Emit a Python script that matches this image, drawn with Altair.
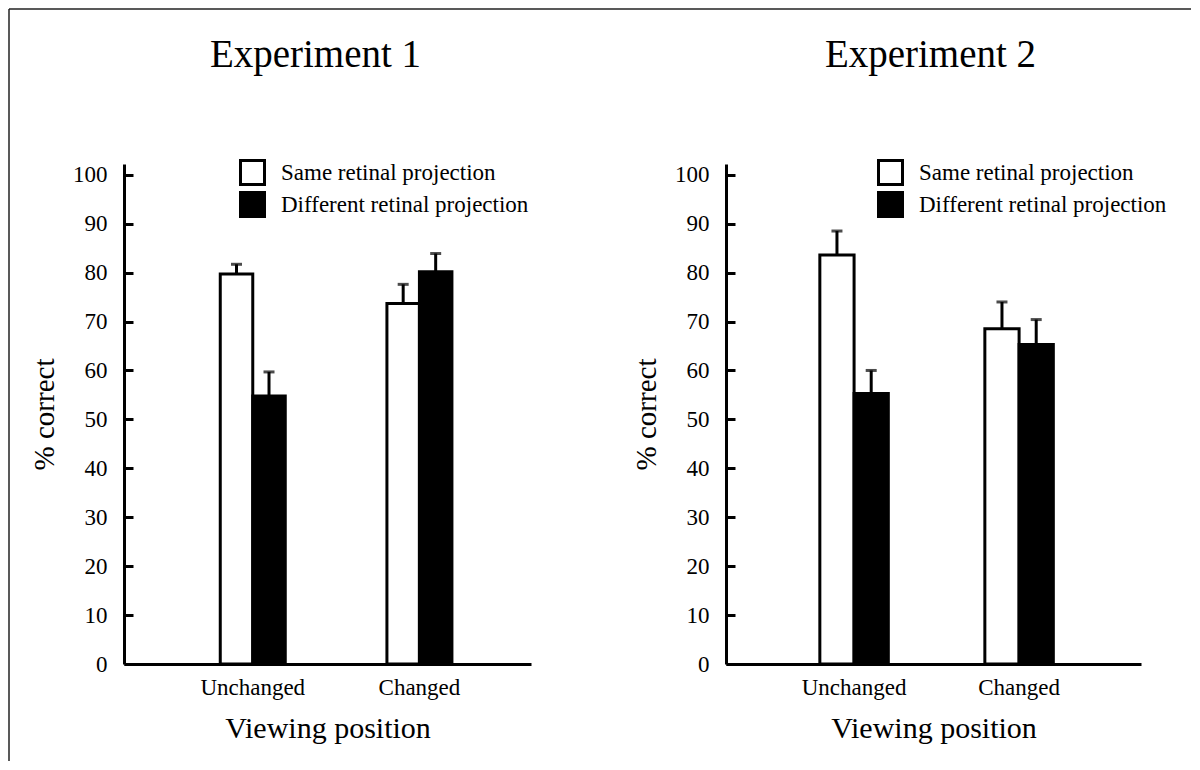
import altair as alt
import pandas as pd

positions = ["Unchanged", "Changed"]
conditions = ["Same retinal projection", "Different retinal projection"]

exp1_same = [79.7, 73.7]
exp1_same_se = [2.0, 3.9]
exp1_diff = [54.8, 80.2]
exp1_diff_se = [4.9, 3.7]

exp2_same = [83.6, 68.5]
exp2_same_se = [4.9, 5.5]
exp2_diff = [55.3, 65.3]
exp2_diff_se = [4.7, 5.1]

y_ticks = [0, 10, 20, 30, 40, 50, 60, 70, 80, 90, 100]

FONT = "Liberation Serif"


def make_df(same, same_se, diff, diff_se):
    rows = []
    for i, p in enumerate(positions):
        rows.append({"pos": p, "cond": conditions[0], "val": same[i], "se": same_se[i]})
        rows.append({"pos": p, "cond": conditions[1], "val": diff[i], "se": diff_se[i]})
    df = pd.DataFrame(rows)
    df["upper"] = df["val"] + df["se"]
    return df


def panel(df, title, width, pin, pout, align, leg_x, title_dx, title_offset, frame=False):
    x_enc = alt.X(
        "pos:N",
        sort=positions,
        scale=alt.Scale(paddingInner=pin, paddingOuter=pout, align=align),
        axis=alt.Axis(
            title="Viewing position",
            titleFont=FONT, titleFontSize=30, titleFontWeight="normal", titleColor="black",
            titlePadding=14,
            labelFont=FONT, labelFontSize=23, labelColor="black", labelAngle=0,
            labelPadding=12,
            ticks=False, domainColor="black", domainWidth=3,
        ),
    )
    xo_enc = alt.XOffset("cond:N", sort=conditions, scale=alt.Scale(paddingInner=0, paddingOuter=0))
    y_scale = alt.Scale(domain=[0, 102.2], nice=False)

    base = alt.Chart(df)
    bars = base.mark_bar(stroke="black", strokeWidth=3).encode(
        x=x_enc,
        xOffset=xo_enc,
        y=alt.Y(
            "val:Q",
            scale=y_scale,
            axis=alt.Axis(
                values=y_ticks, title="% correct",
                titleFont=FONT, titleFontSize=29, titleFontWeight="normal", titleColor="black",
                titlePadding=13,
                labelFont=FONT, labelFontSize=23, labelColor="black", labelPadding=17,
                ticks=False, grid=False, domainColor="black", domainWidth=3,
            ),
        ),
        fill=alt.Fill(
            "cond:N",
            sort=conditions,
            scale=alt.Scale(domain=conditions, range=["white", "black"]),
            legend=alt.Legend(
                title=None, orient="none", legendX=leg_x, legendY=-5,
                symbolType="square", symbolSize=576, symbolStrokeColor="black",
                symbolStrokeWidth=3, symbolOpacity=1,
                labelFont=FONT, labelFontSize=23, labelColor="black",
                labelOffset=15, rowPadding=-5, labelLimit=400,
            ),
        ),
    )
    rules = base.mark_rule(color="black", strokeWidth=3).encode(
        x=x_enc,
        xOffset=xo_enc,
        y=alt.Y(
            "val:Q",
            scale=y_scale,
            axis=alt.Axis(
                values=y_ticks, orient="right", offset=-width, title="",
                labels=False, domain=False, grid=False,
                ticks=True, tickSize=9, tickWidth=3, tickColor="black",
            ),
        ),
        y2="upper:Q",
    )
    caps = base.mark_tick(color="black", thickness=3, size=11, orient="horizontal").encode(
        x=x_enc,
        xOffset=xo_enc,
        y=alt.Y("upper:Q", scale=y_scale, axis=None),
    )
    layers = [bars, rules, caps]
    if frame:
        one = alt.Chart(pd.DataFrame({"k": [0]}))
        left_line = one.mark_rule(color="#222222", strokeWidth=1.5).encode(
            x=alt.value(-115), y=alt.value(-155), y2=alt.value(597)
        )
        top_line = one.mark_rule(color="#222222", strokeWidth=1.5).encode(
            x=alt.value(-115), x2=alt.value(1067), y=alt.value(-155)
        )
        layers += [left_line, top_line]
    return (
        alt.layer(*layers)
        .resolve_axis(y="independent")
        .properties(
            width=width,
            height=500,
            title=alt.TitleParams(
                title, font=FONT, fontSize=39, fontWeight="normal", color="black",
                anchor="middle", offset=title_offset, dx=title_dx,
            ),
        )
    )


left = panel(make_df(exp1_same, exp1_same_se, exp1_diff, exp1_diff_se),
             "Experiment 1", 407, 0.61, 0.526, 0.549, 115, -12, -67, frame=True)
right = panel(make_df(exp2_same, exp2_same_se, exp2_diff, exp2_diff_se),
              "Experiment 2", 415, 0.585, 0.55, 0.517, 151, -3, 84)

chart = (
    alt.hconcat(left, right, spacing=195, bounds="flush")
    .resolve_scale(x="independent", y="independent", fill="independent", xOffset="independent")
    .properties(padding={"left": 0, "top": 0, "right": 0, "bottom": 0}, background="white")
    .configure_view(stroke=None)
)

chart.save("out.html", embed_options={"renderer": "svg", "actions": False})
